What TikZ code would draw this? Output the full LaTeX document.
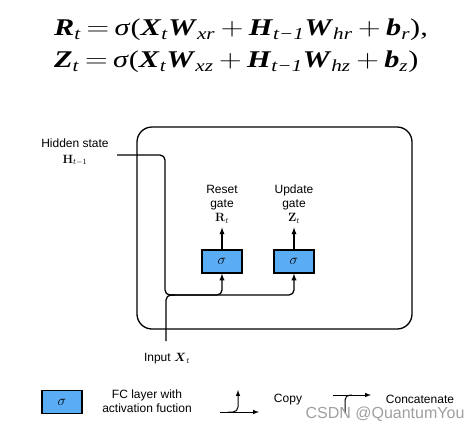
\documentclass[tikz,border=0pt]{standalone}
\usepackage{amsmath}
\usepackage[no-math]{fontspec}
\newfontfamily\arialfont{Liberation Sans}
\newfontfamily\eqfont{Liberation Serif}
\usetikzlibrary{positioning,calc}
\definecolor{gateblue}{RGB}{90,172,245}
\newcommand\eqv[2]{\textbf{\textit{#1}}\textsubscript{\textit{#2}}}
\newcommand\eqop[1]{\hspace{.18em}$#1$\hspace{.18em}}

\begin{document}
\begin{tikzpicture}[x=1pt,y=-1pt,
  gate/.style={rectangle,draw,line width=1.2pt,fill=gateblue,minimum width=40,minimum height=23,inner sep=0pt,font=\fontsize{14}{14}\selectfont},
  lbl/.style={font=\arialfont\fontsize{12}{14}\selectfont,align=center,inner sep=1pt},
  wire/.style={line width=1.3pt,rounded corners=5}]
\useasboundingbox (0,0) rectangle (476,432);

% Equations
\node (eqs) at (241,45) [font=\eqfont\fontsize{24}{32}\selectfont]
{\scalebox{1.26}[1]{\begin{tabular}{@{}l@{}}
 \eqv{R}{t}\eqop{=}\textit{σ}(\eqv{X}{t}\eqv{W}{xr}\eqop{+}\eqv{H}{t−1}\eqv{W}{hr}\eqop{+}\eqv{b}{r}),\\
 \eqv{Z}{t}\eqop{=}\textit{σ}(\eqv{X}{t}\eqv{W}{xz}\eqop{+}\eqv{H}{t−1}\eqv{W}{hz}\eqop{+}\eqv{b}{z})
 \end{tabular}}};

% Cell
\node (cell) at (274.5,228) [draw,line width=1.3pt,rounded corners=15,minimum width=275,minimum height=202] {};

% Gates
\node[gate] (reset) at (222,261.5) {$\sigma$};
\node[gate] (update) at (294,261.5) {$\sigma$};
\node[lbl,inner ysep=4pt,above=22pt of reset] (resetlabel) {Reset\\gate\\$\mathbf{R}_t$};
\node[lbl,inner ysep=4pt,above=22pt of update] (updatelabel) {Update\\gate\\$\mathbf{Z}_t$};
\draw[line width=1.3pt,-latex] (reset) -- (resetlabel);
\draw[line width=1.3pt,-latex] (update) -- (updatelabel);

% Inputs
\node[lbl] (hidden) at (75,152) {Hidden state\\[2pt]$\mathbf{H}_{t-1}$};
\node[lbl] (input) at (167,359) {Input $\boldsymbol{X}_t$};
\coordinate (hin) at (117,155);
\coordinate (xin) at (166,341);
\coordinate (bus) at (165,295);
\draw[wire,-latex] (hin) -| (bus) -| (update.south);
\draw[wire,-latex] ($(bus)+(5,0)$) -| (reset.south);
\draw[wire] (xin) |- ($(bus)+(10,0)$);

% Legend
\node[gate] (legendgate) at (62,402) {$\sigma$};
\node[lbl] (legendfc) at (147,401) {FC layer with\\activation fuction};
\coordinate (copya) at (220,412);
\coordinate (copyb) at (259,412);
\coordinate (copyfork) at (228,412);
\coordinate (copytip) at (238,390);
\draw[line width=1pt,-latex] (copya) -- (copyb);
\draw[line width=1pt,rounded corners=5,-latex] (copyfork) -| (copytip);
\node[lbl] (legendcopy) at (288,400) {Copy};
\coordinate (cata) at (333,395);
\coordinate (catb) at (371,395);
\coordinate (catin) at (345,413);
\coordinate (catjoin) at (352,395);
\draw[line width=1pt,-latex] (cata) -- (catb);
\draw[line width=1pt,rounded corners=5] (catin) |- (catjoin);
\node[lbl] (legendcat) at (420,399) {Concatenate};

% Watermark
\node (mark) at (385,414) [font=\arialfont\fontsize{16}{16}\selectfont,text=gray!75] {CSDN @QuantumYou};

\end{tikzpicture}
\end{document}
